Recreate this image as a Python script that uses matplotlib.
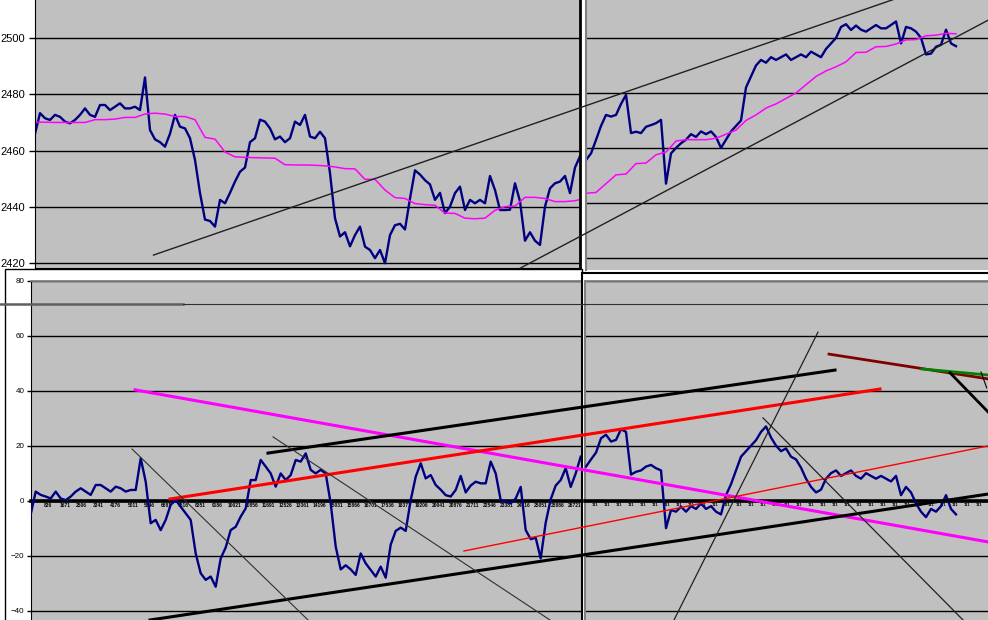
import numpy as np
import matplotlib.pyplot as plt
from matplotlib.lines import Line2D
from matplotlib.patches import Rectangle

plt.rcParams['font.family'] = ['Liberation Sans', 'DejaVu Sans']

# ---- data ----
STEP = 245.5  # ticks between samples

top_left = [2466, 2473.3, 2471.5, 2470.9, 2472.7, 2472, 2470.3, 2469.7, 2470.9, 2472.7,
            2475, 2472.7, 2472, 2476.2, 2476.2, 2474.4, 2475.6, 2476.8, 2475, 2475,
            2475.6, 2474.4, 2486, 2467.3, 2464, 2463, 2461.4, 2466, 2472.7, 2468.5,
            2467.9, 2464.4, 2456.7, 2444.9, 2435.5, 2435, 2433, 2442.5, 2441.3, 2445,
            2449, 2452.5, 2454, 2463, 2464.4, 2471, 2470.3, 2467.9, 2464, 2465,
            2463, 2464.4, 2470.3, 2469.1, 2472.7, 2465, 2464.4, 2466.7, 2464.4, 2452,
            2436, 2429.5, 2431, 2426, 2430, 2433, 2425.9, 2424.7, 2421.8, 2424.7,
            2420, 2430, 2433.5, 2434, 2432, 2443, 2453, 2451.5, 2449.5, 2448,
            2442.5, 2445, 2437.8, 2440.1, 2444.9, 2447.2, 2438.9, 2442.5, 2441.3, 2442.5,
            2441.3, 2451, 2446, 2438.9, 2438.9, 2439, 2448.4, 2442, 2428, 2431,
            2428, 2426.5, 2440.1, 2446.6, 2448.4, 2449, 2451, 2444.9, 2454, 2458]

top_left_avg = [2470.1, 2470.1, 2470, 2470, 2470, 2470, 2471, 2471, 2471.2, 2471.8,
                2471.8, 2473, 2473.3, 2473, 2472.1, 2472.1, 2471, 2464.7, 2464.1, 2459.5,
                2457.8, 2457.6, 2457.5, 2457.4, 2457.3, 2455, 2454.9, 2454.9, 2454.8, 2454.6,
                2454.2, 2453.6, 2453.5, 2449.8, 2449.8, 2446, 2443.3, 2443, 2441.2, 2440.8,
                2440.6, 2437.8, 2437.7, 2436, 2435.8, 2436, 2438.8, 2440.1, 2440.3, 2443.4,
                2443.4, 2443, 2441.9, 2441.9, 2442.2, 2443]

top_right = [2455.6, 2458, 2462.9, 2468, 2472, 2471.4, 2472, 2476, 2479.3, 2465.4,
             2465.9, 2465.4, 2467.7, 2468.3, 2469, 2470.2, 2447, 2458, 2460, 2461.7,
             2463, 2465, 2464, 2466, 2465, 2466, 2464, 2460, 2463, 2466,
             2468, 2470, 2482, 2486, 2490, 2492, 2491, 2493, 2492, 2493,
             2494, 2492, 2493, 2494, 2493, 2495, 2494, 2493, 2496, 2498,
             2500, 2504, 2505, 2502.9, 2504.5, 2503, 2502.3, 2503.5, 2504.7, 2503.5,
             2503.5, 2504.7, 2506, 2498, 2504, 2503.5, 2502.3, 2500, 2494, 2494.3,
             2496.8, 2497.5, 2503, 2498, 2497]

top_right_avg = [2443.5, 2443.8, 2447, 2450.2, 2450.5, 2454.3, 2454.5, 2457.5, 2458.5, 2462.5,
                 2463, 2463, 2463, 2463.5, 2465, 2466.5, 2470, 2472, 2474.5, 2476,
                 2478, 2480, 2483, 2486, 2488, 2489.5, 2491.3, 2494.7, 2494.8, 2496.8,
                 2496.9, 2497.8, 2499.3, 2499.4, 2500.8, 2501, 2501.7, 2501.5]

bot_left = [-5, 3.3, 2.1, 1.5, 0.8, 3.3, 0.8, 0.2, 1.5, 3.3,
            4.5, 3.3, 2.1, 5.7, 5.7, 4.5, 3.3, 5.1, 4.5, 3.3,
            3.9, 3.9, 15.4, 6.9, -8.2, -7, -10.7, -7, -1.5, 0.2,
            -2.2, -4.6, -7, -19.2, -26.4, -28.8, -27.6, -31.3, -21, -17,
            -10.7, -9.5, -5.8, -2.8, 7.5, 7.5, 14.8, 12.4, 9.9, 5.1,
            9.9, 7.5, 9.3, 14.8, 14.2, 17.2, 11.2, 9.9, 11.2, 9.9,
            -1, -16.7, -25, -23.5, -25, -27, -19.2, -22.8, -25.2, -27.6,
            -24, -28, -16, -11, -9.8, -11, 0.2, 8.7, 13.6, 8.1,
            9.3, 5.7, 4, 2, 1.5, 3.9, 9, 3, 5.5, 6.9,
            6.3, 6.3, 14.2, 9.9, 0.2, -0.4, -1, 0.8, 5, -10.7,
            -14, -13.5, -21, -8, 0.5, 5.5, 7.5, 11.8, 5, 9.9,
            16]

bot_right = [12.4, 15, 17.5, 22.7, 24, 21.5, 22.1, 26, 25, 9.5,
             10.5, 11, 12.4, 13, 11.8, 11, -10, -3.4, -4, -2.2,
             -4, -2, -3, -1, -3, -2, -4, -5, 2, 6,
             11, 16, 18, 20, 22, 25, 27, 23, 20, 18,
             19, 16, 15, 12, 8, 5, 3, 4, 8, 10,
             11, 9, 10, 11, 9, 8, 10, 9, 8, 9,
             8, 7, 9, 2, 5, 3, -1, -4, -6, -3,
             -4, -2, 2, -3, -5]

top_ticks = [2420, 2440, 2460, 2480, 2500]
bot_ticks = [-40, -20, 0, 20, 40, 60, 80]
bl_xticks = [836 + 835 * i for i in range(32)]
br_xticks = [440 + 590 * i for i in range(33)]

# hand-drawn trend lines, in the left panels' data units: (x0, y0, x1, y1, colour, width)
top_lines = [(5818, 2422.9, 42398, 2514.3, '#202020', 1.0),
             (23838, 2418.3, 46817, 2506.4, '#202020', 1.0)]
bot_lines = [(5121, 40.3, 47003, -15.0, '#FF00FF', 2.2),
             (11651, 17.3, 39491, 47.5, 'black', 2.2),
             (6840, 0.6, 41700, 40.6, '#FF0000', 2.2),
             (21275, -18.3, 47003, 19.9, '#FF0000', 1.0),
             (5858, -43.4, 47003, 2.4, 'black', 2.2),
             (4974, 18.8, 13615, -43.4, '#303030', 0.8),
             (11897, 23.2, 25498, -43.4, '#303030', 0.8),
             (38656, 61.3, 31586, -43.4, '#202020', 0.9),
             (35956, 30.1, 45776, -43.4, '#202020', 0.9),
             (39197, 53.3, 47003, 44.3, '#800000', 2.0),
             (43763, 47.9, 47003, 45.7, '#008000', 2.0),
             (45138, 46.5, 47003, 32.3, 'black', 2.0),
             (46660, 46.8, 46940, 41.0, 'black', 0.8)]

# ---- layout ----
W, H = 988, 620
GREY = '#C0C0C0'
NAVY = '#000080'
MAG = '#FF00FF'


def px_box(x0, y0, x1, y1):
    return [x0 / W, 1 - y1 / H, (x1 - x0) / W, (y1 - y0) / H]


def xs(vals, step=STEP):
    return np.arange(len(vals)) * step


fig = plt.figure(figsize=(W / 100, H / 100), dpi=100)

# top chart, left part
ax_tl = fig.add_axes(px_box(34.5, 0, 580, 268.3), zorder=0)
ax_tl.set_facecolor(GREY)
ax_tl.plot(xs(top_left), top_left, color=NAVY, lw=1.7)
ax_tl.plot(xs(top_left_avg, 2 * STEP), top_left_avg, color=MAG, lw=1.1)
ax_tl.set_xlim(-25, 26760)
ax_tl.set_ylim(2418.2, 2513.5)
ax_tl.set_yticks(top_ticks)
ax_tl.set_xticks([])
ax_tl.grid(axis='y', color='black', lw=1)
ax_tl.set_axisbelow(True)
ax_tl.tick_params(axis='y', length=4, width=1, pad=2.5, labelsize=8)
ax_tl.spines['top'].set_visible(False)
ax_tl.spines['right'].set_linewidth(2)

# top chart, right part
ax_tr = fig.add_axes(px_box(585.5, 0, 988, 270), zorder=0)
ax_tr.set_facecolor(GREY)
ax_tr.plot(xs(top_right), top_right, color=NAVY, lw=1.7)
ax_tr.plot(xs(top_right_avg, 2 * STEP), top_right_avg, color=MAG, lw=1.1)
ax_tr.set_xlim(-25, 19738)
ax_tr.set_ylim(2415.6, 2513.8)
ax_tr.set_yticks(top_ticks)
ax_tr.set_xticks([])
ax_tr.grid(axis='y', color='black', lw=1)
ax_tr.set_axisbelow(True)
ax_tr.tick_params(axis='y', length=0, labelleft=False)
for s in ['top', 'right', 'bottom']:
    ax_tr.spines[s].set_visible(False)
ax_tr.spines['left'].set_color('#808080')
ax_tr.spines['left'].set_linewidth(1.5)

for x0, y0, x1, y1, c, lw in top_lines:
    fig.add_artist(Line2D([x0, x1], [y0, y1], color=c, lw=lw,
                          transform=ax_tl.transData, zorder=1))

# bottom chart frames
fig.add_artist(Rectangle((5 / W, 1 - 625 / H), 576.7 / W, (625 - 269.3) / H,
                         transform=fig.transFigure, facecolor='white',
                         edgecolor='black', lw=1, zorder=2))
fig.add_artist(Rectangle((581.7 / W, 1 - 625 / H), 420 / W, (625 - 272.7) / H,
                         transform=fig.transFigure, facecolor='white',
                         edgecolor='black', lw=1.5, zorder=4))


def style_bottom(ax):
    ax.set_facecolor(GREY)
    ax.set_ylim(-43.4, 80)
    ax.set_yticks(bot_ticks)
    ax.grid(axis='y', color='black', lw=1)
    ax.set_axisbelow(True)
    ax.spines['right'].set_visible(False)
    ax.spines['top'].set_color('#808080')
    ax.spines['top'].set_linewidth(1.3)
    ax.spines['bottom'].set_position(('data', 0))
    ax.spines['bottom'].set_linewidth(2.6)
    ax.tick_params(axis='x', length=0, pad=1.5, labelsize=3.5)


ax_bl = fig.add_axes(px_box(30.7, 280.7, 580.5, 620), zorder=3)
style_bottom(ax_bl)
ax_bl.plot(xs(bot_left), bot_left, color=NAVY, lw=1.7, zorder=3)
ax_bl.set_xlim(0, 26995)
ax_bl.set_xticks(bl_xticks)
ax_bl.set_xticklabels([str(t) for t in bl_xticks], fontweight='bold')
ax_bl.tick_params(axis='y', length=3, width=1, pad=1.5, labelsize=5.8)

ax_br = fig.add_axes(px_box(585.3, 280.7, 988, 620), zorder=5)
style_bottom(ax_br)
ax_br.plot(xs(bot_right), bot_right, color=NAVY, lw=1.7, zorder=3)
ax_br.set_xlim(-35, 19738)
ax_br.set_xticks(br_xticks)
ax_br.set_xticklabels(['111'] * len(br_xticks), fontweight='bold', fontsize=3)
ax_br.tick_params(axis='y', length=0, labelleft=False)
ax_br.spines['left'].set_color('#808080')
ax_br.spines['left'].set_linewidth(1.5)

for x0, y0, x1, y1, c, lw in bot_lines:
    fig.add_artist(Line2D([x0, x1], [y0, y1], color=c, lw=lw,
                          transform=ax_bl.transData, zorder=6))

# stray border of an object behind the charts
fig.add_artist(Line2D([0, 183 / W], [1 - 304 / H] * 2, color='#606060', lw=1.8,
                      transform=fig.transFigure, zorder=6))
fig.add_artist(Line2D([183 / W, 1], [1 - 304 / H] * 2, color='#303030', lw=0.8,
                      transform=fig.transFigure, zorder=6))

fig.savefig('out.png', dpi=100)
